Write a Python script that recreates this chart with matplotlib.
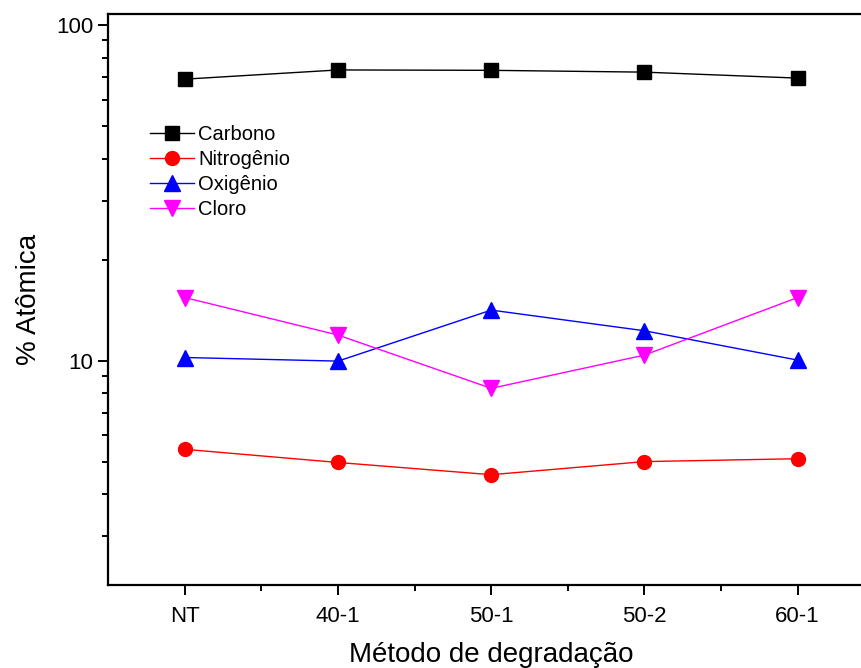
import numpy as np
import matplotlib
matplotlib.use("Agg")
import matplotlib.pyplot as plt
from matplotlib.ticker import LogLocator, NullFormatter, FixedLocator

plt.rcParams['font.family'] = ['Liberation Sans', 'DejaVu Sans']

metodos = ['NT', '40-1', '50-1', '50-2', '60-1']
carbono = [69.0, 73.5, 73.3, 72.4, 69.5]
nitrogenio = [5.45, 4.98, 4.58, 5.01, 5.11]
oxigenio = [10.23, 9.98, 14.16, 12.29, 10.05]
cloro = [15.43, 11.93, 8.28, 10.40, 15.43]

x = np.arange(1, len(metodos) + 1)

fig = plt.figure(figsize=(8.61, 6.68), dpi=100)
ax = fig.add_axes([0.1258, 0.1243, 0.8895, 0.854])

ax.plot(x, carbono, color='black', lw=1, marker='s', ms=9.5, label='Carbono')
ax.plot(x, nitrogenio, color='#FF0000', lw=1, marker='o', ms=10, label='Nitrogênio')
ax.plot(x, oxigenio, color='#0000FF', lw=1, marker='^', ms=11, label='Oxigênio')
ax.plot(x, cloro, color='#FF00FF', lw=1, marker='v', ms=11, label='Cloro')

ax.set_yscale('log')
ax.set_ylim(2.15, 107.5)
ax.set_xlim(0.5, 5.5)

ax.set_xticks(x)
ax.set_xticklabels(metodos)
ax.xaxis.set_minor_locator(FixedLocator(x[:-1] + 0.5))
ax.yaxis.set_major_locator(FixedLocator([10, 100]))
ax.yaxis.set_major_formatter(plt.FuncFormatter(lambda v, p: f'{v:g}'))
ax.yaxis.set_minor_locator(LogLocator(base=10, subs=np.arange(2, 10)))
ax.yaxis.set_minor_formatter(NullFormatter())

ax.tick_params(which='major', direction='out', length=7, width=1.4, labelsize=16)
ax.tick_params(which='minor', direction='out', length=4, width=1.4)
ax.tick_params(axis='y', which='both', pad=4)
ax.tick_params(axis='x', which='major', pad=8)
for s in ax.spines.values():
    s.set_linewidth(1.6)

ax.set_xlabel('Método de degradação', fontsize=20, labelpad=11)
ax.set_ylabel('% Atômica', fontsize=20, labelpad=10)

ax.legend(loc='upper left', bbox_to_anchor=(0.0544, 0.806), frameon=False,
          fontsize=14.5, handlelength=2.2, handletextpad=0.2, labelspacing=0.3,
          borderpad=0, borderaxespad=0)

fig.savefig('out.png', dpi=100)
